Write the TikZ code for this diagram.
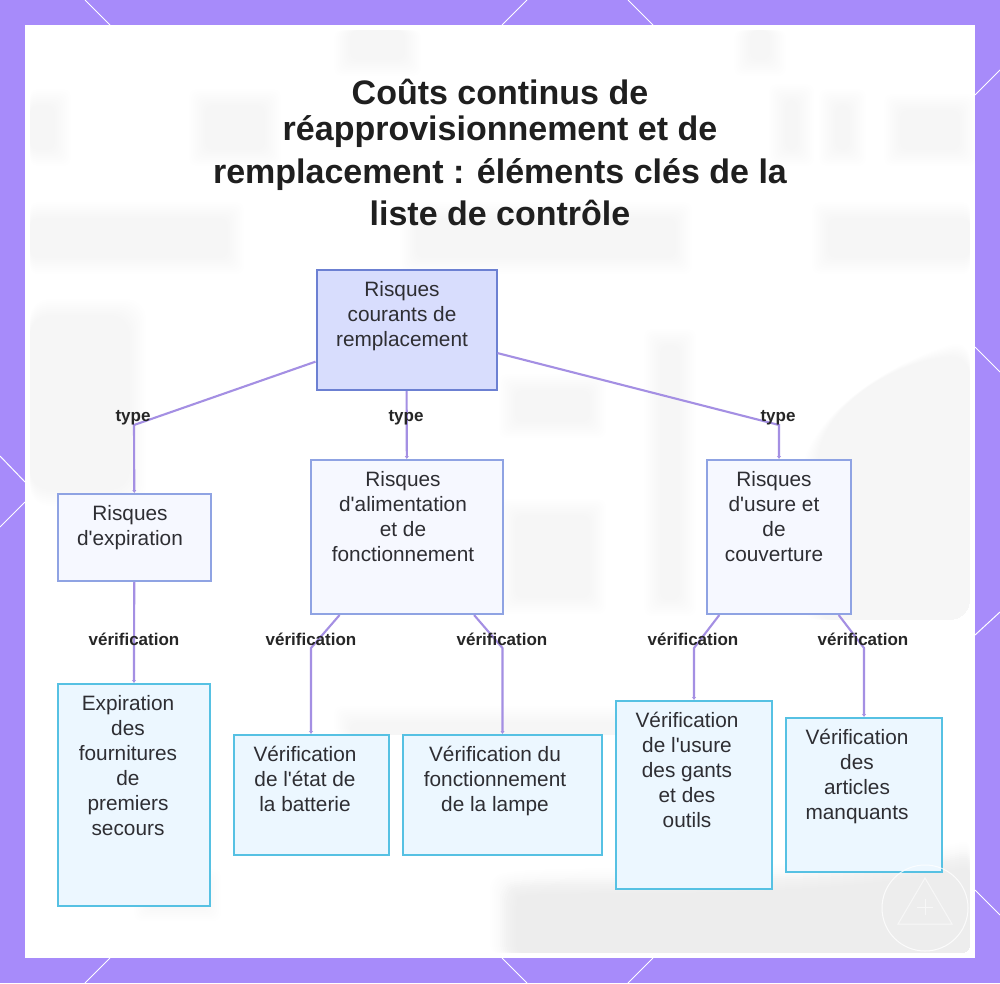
\documentclass[tikz,border=0pt]{standalone}
\usepackage{fontspec}
\setmainfont{Liberation Sans}
\newfontfamily\titlefont{Liberation Sans Bold}
\usetikzlibrary{arrows.meta}
\definecolor{framepurple}{HTML}{A78BFA}
\definecolor{linkpurple}{HTML}{A48FE3}
\definecolor{inktext}{HTML}{2E2E33}
\definecolor{rootline}{HTML}{6C80D2}
\definecolor{rootfill}{HTML}{D8DDFD}
\definecolor{riskline}{HTML}{8FA3E3}
\definecolor{riskfill}{HTML}{F6F8FF}
\definecolor{checkline}{HTML}{56C1E3}
\definecolor{checkfill}{HTML}{ECF7FF}
\newcommand{\apos}{\textquotesingle}
\tikzset{
  rootbox/.style={draw=rootline,line width=2pt,fill=rootfill,inner sep=0pt},
  riskbox/.style={draw=riskline,line width=2pt,fill=riskfill,inner sep=0pt},
  checkbox/.style={draw=checkline,line width=2pt,fill=checkfill,inner sep=0pt},
  boxtext/.style={align=center,text=inktext,font=\fontsize{20.8}{25}\selectfont,inner sep=0pt},
  linktext/.style={text=black!85,font=\bfseries\fontsize{17}{18}\selectfont,inner sep=0pt},
  link/.style={draw=linkpurple,line width=2.1pt},
  linkend/.style={link,-{Latex[length=3pt,width=4.5pt]}},
  framemark/.style={draw=white,line width=1pt},
  softbg/.style={fill=black,opacity=0.005,rounded corners=8pt},
  softword/.style={fill=black,opacity=0.0025,rounded corners=8pt},
  softred/.style={fill=red!70!black,opacity=0.002,rounded corners=20pt}
}
\begin{document}
\begin{tikzpicture}[x=1pt,y=-1pt]
  \useasboundingbox (0,0) rectangle (1000,983);

  % Drawing frame and panel
  \fill[framepurple] (0,0) rectangle (1000,983);
  \draw[framemark] (85,0) -- (110,25);
  \draw[framemark] (527,0) -- (502,25);
  \draw[framemark] (628,0) -- (653,25);
  \draw[framemark] (1000,70) -- (975,95);
  \draw[framemark] (975,347) -- (1000,372);
  \draw[framemark] (1000,612) -- (975,635);
  \draw[framemark] (975,890) -- (1000,915);
  \draw[framemark] (110,958) -- (85,983);
  \draw[framemark] (502,958) -- (527,983);
  \draw[framemark] (653,958) -- (628,983);
  \draw[framemark] (0,456) -- (25,482);
  \draw[framemark] (25,502) -- (0,527);
  \fill[white] (25,25) rectangle (975,958);

  % Marking pale background shapes
  \foreach \grow in {0,2,...,16}{
    \fill[softbg] (30,218-\grow) rectangle (228+\grow,258+\grow);
    \fill[softbg] (416-\grow,218-\grow) rectangle (676+\grow,258+\grow);
    \fill[softbg] (828-\grow,218-\grow) rectangle (970,258+\grow);
    \fill[softbg] (515-\grow,390-\grow) rectangle (590+\grow,422+\grow);
    \fill[softbg] (515-\grow,515-\grow) rectangle (590+\grow,598+\grow);
    \fill[softbg] (660-\grow,345-\grow) rectangle (680+\grow,600+\grow);
    \fill[softbg] (350-\grow,722-\grow) rectangle (640+\grow,735);
    \fill[softbg] (150-\grow,885-\grow) rectangle (205+\grow,905+\grow);
    \fill[softbg] (490+\grow,953) -- (490+\grow,880+\grow)
      .. controls (520,860+\grow) and (800,880+\grow) .. (970,840+\grow) -- (970,953) -- cycle;
    \fill[softbg] (500+\grow,953) -- (500+\grow,890+\grow)
      .. controls (520,870+\grow) and (800,890+\grow) .. (970,850+\grow) -- (970,953) -- cycle;
    \fill[softword] (30,105-\grow) rectangle (55+\grow,150+\grow);
    \fill[softword] (205-\grow,105-\grow) rectangle (265+\grow,150+\grow);
    \fill[softword] (785-\grow,100-\grow) rectangle (798+\grow,150+\grow);
    \fill[softword] (835-\grow,105-\grow) rectangle (850+\grow,150+\grow);
    \fill[softword] (900-\grow,110-\grow) rectangle (960+\grow,150+\grow);
    \fill[softword] (350-\grow,30) rectangle (405+\grow,60+\grow);
    \fill[softword] (750-\grow,30) rectangle (770+\grow,60+\grow);
    \fill[softred] (30,315-\grow) rectangle (130+\grow,490+\grow);
    \fill[softred] (815-\grow,620) -- (815-\grow,470) .. controls (830,400) and (900,360) .. (970,355-\grow) -- (970,620) -- cycle;
  }

  % Marking title
  \node[align=center,text=black!88,inner sep=0pt,font=\titlefont\fontsize{34}{36}\selectfont] (title) at (500,152)
    {Coûts continus de\\[0pt]
     réapprovisionnement et de\\[7pt]
     remplacement : éléments clés de la\\[6pt]
     liste de contrôle};

  % Marking boxes
  \node[rootbox,minimum width=180pt,minimum height=120pt] (root) at (406.5,330) {};
  \node[riskbox,minimum width=153pt,minimum height=87pt] (expiry) at (134.5,537.5) {};
  \node[riskbox,minimum width=192pt,minimum height=154pt] (power) at (407,537) {};
  \node[riskbox,minimum width=144pt,minimum height=154pt] (wear) at (779,537) {};
  \node[checkbox,minimum width=152pt,minimum height=222pt] (firstaid) at (134,795) {};
  \node[checkbox,minimum width=155pt,minimum height=120pt] (battery) at (311,795) {};
  \node[checkbox,minimum width=199pt,minimum height=120pt] (lamp) at (502.5,795) {};
  \node[checkbox,minimum width=156pt,minimum height=188pt] (gloves) at (694,795) {};
  \node[checkbox,minimum width=156pt,minimum height=154pt] (missing) at (864,795) {};

  % Marking box texts
  \node[boxtext,anchor=north] (roottext) at (402,281) {Risques\\courants de\\remplacement};
  \node[boxtext,anchor=north] (expirytext) at (130,505) {Risques\\d\apos expiration};
  \node[boxtext,anchor=north] (powertext) at (403,471) {Risques\\d\apos alimentation\\et de\\fonctionnement};
  \node[boxtext,anchor=north] (weartext) at (774,471) {Risques\\d\apos usure et\\de\\couverture};
  \node[boxtext,anchor=north] (firstaidtext) at (128,695) {Expiration\\des\\fournitures\\de\\premiers\\secours};
  \node[boxtext,anchor=north] (batterytext) at (305,746) {Vérification\\de l\apos état de\\la batterie};
  \node[boxtext,anchor=north] (lamptext) at (495,746) {Vérification du\\fonctionnement\\de la lampe};
  \node[boxtext,anchor=north] (glovestext) at (687,712) {Vérification\\de l\apos usure\\des gants\\et des\\outils};
  \node[boxtext,anchor=north] (missingtext) at (857,729) {Vérification\\des\\articles\\manquants};

  % Marking bends of links
  \coordinate (bendexpiry) at (134,425);
  \coordinate (bendwear) at (779,425);
  \coordinate (bendfirstaid) at (134,648);
  \coordinate (bendbattery) at (311,648);
  \coordinate (bendlamp) at (502.5,648);
  \coordinate (bendgloves) at (694,648);
  \coordinate (bendmissing) at (864,648);

  % Drawing links
  \draw[linkend] (root) -- (bendexpiry) -- (expiry);
  \draw[linkend] (root) -- (power);
  \draw[linkend] (root) -- (bendwear) -- (wear);
  \draw[linkend] (expiry) -- (bendfirstaid) -- (firstaid);
  \draw[linkend] (power) -- (bendbattery) -- (battery);
  \draw[linkend] (power) -- (bendlamp) -- (lamp);
  \draw[linkend] (wear) -- (bendgloves) -- (gloves);
  \draw[linkend] (wear) -- (bendmissing) -- (missing);

  % Marking link labels
  \node[linktext] (typeexpiry) at (133,418) {type};
  \node[linktext] (typepower) at (406,418) {type};
  \node[linktext] (typewear) at (778,418) {type};
  \node[linktext] (checkfirstaid) at (134,639) {vérification};
  \node[linktext] (checkbattery) at (311,639) {vérification};
  \node[linktext] (checklamp) at (502,639) {vérification};
  \node[linktext] (checkgloves) at (693,639) {vérification};
  \node[linktext] (checkmissing) at (863,639) {vérification};

  % Marking logo by circle
  \draw[white,line width=1pt,opacity=0.8] (925,908) circle (43);
  \draw[white,line width=1pt,opacity=0.6] (925,878) -- (952,924) -- (898,924) -- cycle;
  \draw[white,line width=1pt,opacity=0.6] (925,899) -- (925,915) (917,907) -- (933,907);
\end{tikzpicture}
\end{document}
